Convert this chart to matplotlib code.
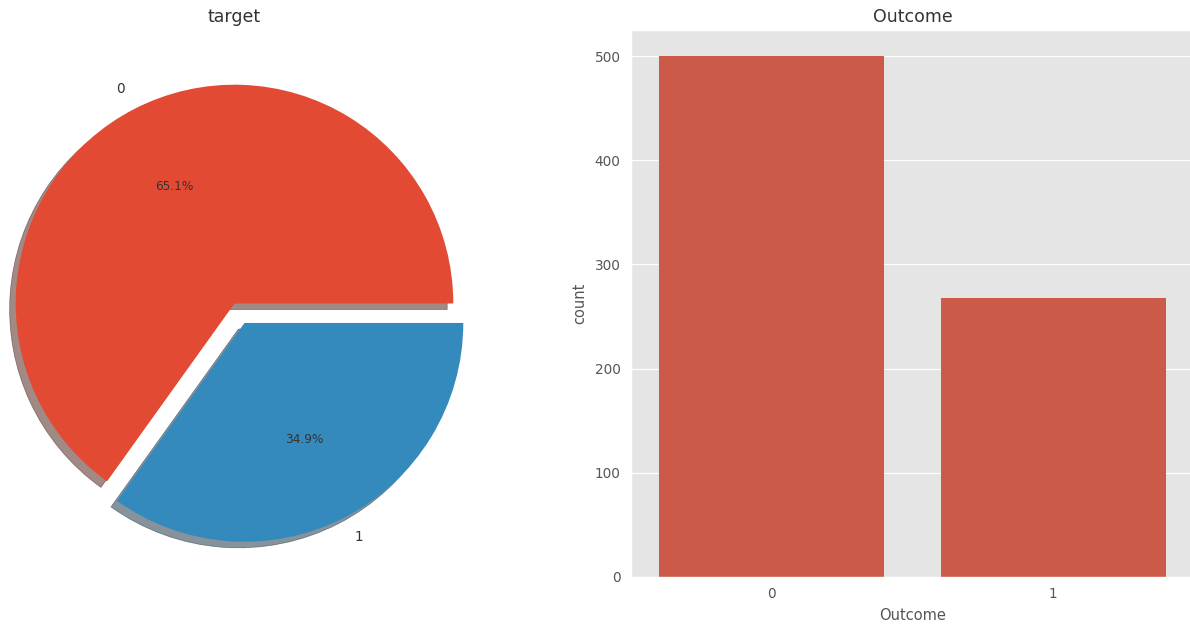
import matplotlib
matplotlib.use("Agg")
import matplotlib.pyplot as plt
import seaborn as sns

# Outcome counts
labels = ['0', '1']
counts = [500, 268]

plt.style.use('ggplot')

fig = plt.figure(figsize=(11.9, 6.25), dpi=100)

# pie on the left
ax1 = fig.add_axes([-0.0328, 0.0768, 0.4597, 0.8752])
ax1.pie(counts, explode=[0, 0.1], labels=labels, autopct='%1.1f%%', shadow=True,
        textprops={'fontsize': 9.8, 'color': '#333333'}, radius=1)
for t in ax1.texts:
    if t.get_text().endswith('%'):
        t.set_fontsize(8.7)
ax1.set_title('target', fontsize=12.5, color='#333333')

# count plot on the right
ax2 = fig.add_axes([631 / 1190, 0.0768, 563 / 1190, 0.8752])
bar_color = sns.desaturate('#E24A33', 0.75)
ax2.bar(range(len(labels)), counts, width=0.8, color=bar_color)
ax2.set_xlim(-0.5, 1.5)
ax2.set_ylim(0, max(counts) * 1.05)
ax2.set_xticks(range(len(labels)))
ax2.set_xticklabels(labels)
ax2.grid(axis='x', visible=False)
ax2.tick_params(labelsize=9.8, length=0, pad=7.5)
ax2.set_xlabel('Outcome', fontsize=10.5, labelpad=5)
ax2.set_ylabel('count', fontsize=10.5, labelpad=5)
ax2.set_title('Outcome', fontsize=12.5, color='#333333')
ax2.set_axisbelow(True)

fig.savefig('out.png', dpi=100)
